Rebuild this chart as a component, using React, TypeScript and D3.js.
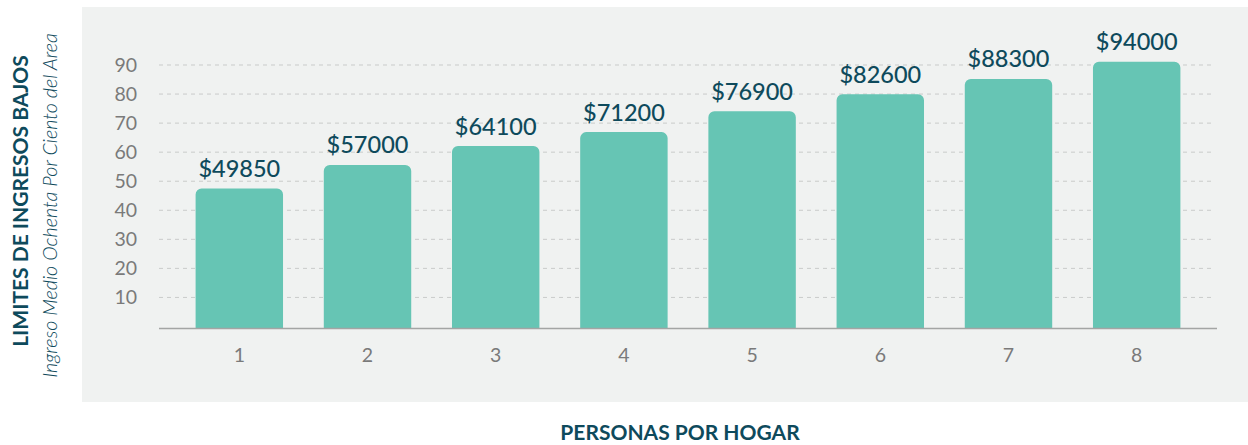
import React from "react";
import * as d3 from "d3";

const categories = ["1", "2", "3", "4", "5", "6", "7", "8"];
const barHeights = [47.5, 55.6, 62.1, 66.9, 74.1, 79.9, 85.2, 91.1];
const valueLabels = ["$49850", "$57000", "$64100", "$71200", "$76900", "$82600", "$88300", "$94000"];
const yTicks = [10, 20, 30, 40, 50, 60, 70, 80, 90];
const yTitle = "LIMITES DE INGRESOS BAJOS";
const ySubtitle = "Ingreso Medio Ochenta Por Ciento del Area";
const xTitle = "PERSONAS POR HOGAR";

const W = 1248;
const H = 445;
const FONT = "Lato, 'Open Sans', sans-serif";
const DARK = "#0e4a5c";
const BAR = "#66c5b4";

export default function App() {
  const x = d3
    .scaleBand<string>()
    .domain(categories)
    .range([159, 1217])
    .paddingInner(0.318)
    .paddingOuter(0.2855);
  const y = d3.scaleLinear().domain([0, 90]).range([326.5, 65]);
  const baseY = 328;
  const r = 6;

  const barPath = (x0: number, w: number, top: number) => {
    const p = d3.path();
    p.moveTo(x0, baseY);
    p.lineTo(x0, top + r);
    p.arcTo(x0, top, x0 + r, top, r);
    p.lineTo(x0 + w - r, top);
    p.arcTo(x0 + w, top, x0 + w, top + r, r);
    p.lineTo(x0 + w, baseY);
    p.closePath();
    return p.toString();
  };

  return (
    <svg
      width={W}
      height={H}
      style={{ position: "absolute", left: 0, top: 0, display: "block" }}
    >
      <rect x={0} y={0} width={W} height={H} fill="#ffffff" />
      <rect x={82} y={7} width={W - 82} height={395} fill="#f0f2f1" />

      {yTicks.map((t) => (
        <g key={t}>
          <line
            x1={159}
            x2={1215}
            y1={y(t)}
            y2={y(t)}
            stroke="#c9cbca"
            strokeWidth={1}
            strokeDasharray="4 4"
          />
          <text
            x={137}
            y={y(t)}
            dy="0.36em"
            textAnchor="end"
            fontFamily={FONT}
            fontSize={19.5}
            fill="#7a7a7a"
          >
            {t}
          </text>
        </g>
      ))}

      {categories.map((c, i) => {
        const x0 = x(c)!;
        const w = x.bandwidth();
        const top = y(barHeights[i]);
        return (
          <g key={c}>
            <path d={barPath(x0, w, top)} fill={BAR} />
            <text
              x={x0 + w / 2}
              y={top - 11.5}
              textAnchor="middle"
              fontFamily={FONT}
              fontSize={23.5}
              fontWeight={500}
              fill={DARK}
            >
              {valueLabels[i]}
            </text>
            <text
              x={x0 + w / 2}
              y={362}
              textAnchor="middle"
              fontFamily={FONT}
              fontSize={19.5}
              fill="#7a7a7a"
            >
              {c}
            </text>
          </g>
        );
      })}

      <line x1={159} x2={1217} y1={baseY + 0.5} y2={baseY + 0.5} stroke="#a3a5a4" strokeWidth={1.5} />

      <text
        transform="translate(28,201) rotate(-90)"
        textAnchor="middle"
        fontFamily={FONT}
        fontSize={21}
        fontWeight={700}
        fill={DARK}
      >
        {yTitle}
      </text>
      <text
        transform="translate(57,205.5) rotate(-90)"
        textAnchor="middle"
        fontFamily={FONT}
        fontSize={19.7}
        fontStyle="italic"
        fontWeight={300}
        fill={DARK}
      >
        {ySubtitle}
      </text>

      <text
        x={680}
        y={440}
        textAnchor="middle"
        fontFamily={FONT}
        fontSize={21}
        fontWeight={700}
        fill={DARK}
      >
        {xTitle}
      </text>
    </svg>
  );
}
